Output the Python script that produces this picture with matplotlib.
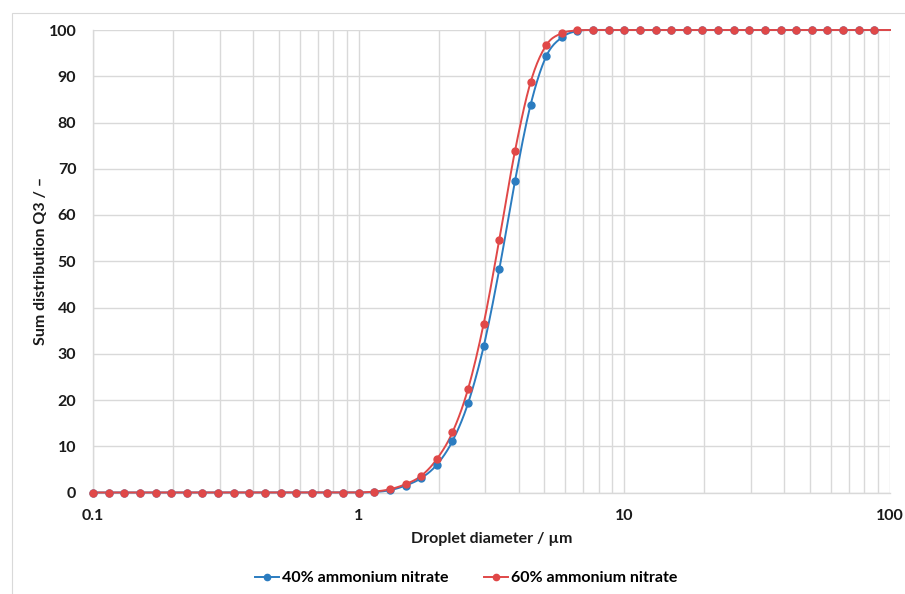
import numpy as np
import matplotlib

matplotlib.use("Agg")
import matplotlib.pyplot as plt
from matplotlib.ticker import FixedLocator, NullFormatter
from matplotlib.patches import Rectangle

plt.rcParams["font.family"] = ["Lato", "DejaVu Sans"]

# droplet size classes (um); the last class (100) carries the line but no marker
diameter = [0.1, 0.1145, 0.1311, 0.1501, 0.1719, 0.1968, 0.2254, 0.2581,
            0.2955, 0.3384, 0.3875, 0.4437, 0.5080, 0.5817, 0.6661, 0.7627,
            0.8733, 1.0, 1.145, 1.311, 1.501, 1.719, 1.968, 2.254, 2.581,
            2.955, 3.384, 3.875, 4.437, 5.080, 5.817, 6.661, 7.627, 8.733,
            10.0, 11.45, 13.11, 15.01, 17.19, 19.68, 22.54, 25.81, 29.55,
            33.84, 38.75, 44.37, 50.80, 58.17, 66.61, 76.27, 87.33, 100.0]

q3_40 = [0] * 17 + [0, 0.1, 0.5, 1.5, 3.1, 6.0, 11.1, 19.3, 31.6, 48.3,
                    67.3, 83.8, 94.3, 98.4, 99.8] + [100] * 20
q3_60 = [0] * 17 + [0, 0.2, 0.7, 1.8, 3.6, 7.2, 13.0, 22.4, 36.5, 54.7,
                    73.8, 88.7, 96.7, 99.3, 99.9] + [100] * 20

series_names = ["40% ammonium nitrate", "60% ammonium nitrate"]
series_colors = ["#2b7cc0", "#e04848"]

x_ticks = [0.1, 1, 10, 100]
x_ticklabels = ["0.1", "1", "10", "100"]
y_ticks = list(range(0, 101, 10))

FS = 11.5


def smooth(x, y, n=12):
    """Catmull-Rom curve through the points, in log-x space (Excel-like smoothing)."""
    lx = np.log10(np.asarray(x, float))
    y = np.asarray(y, float)
    px = np.concatenate([[2 * lx[0] - lx[1]], lx, [2 * lx[-1] - lx[-2]]])
    py = np.concatenate([[y[0]], y, [y[-1]]])
    t = np.linspace(0, 1, n, endpoint=False)
    xs, ys = [], []
    for i in range(1, len(px) - 2):
        for P, out in ((px, xs), (py, ys)):
            p0, p1, p2, p3 = P[i - 1], P[i], P[i + 1], P[i + 2]
            out.extend(0.5 * (2 * p1 + (-p0 + p2) * t
                              + (2 * p0 - 5 * p1 + 4 * p2 - p3) * t ** 2
                              + (-p0 + 3 * p1 - 3 * p2 + p3) * t ** 3))
    xs.append(lx[-1])
    ys.append(y[-1])
    return 10 ** np.array(xs), np.array(ys)


fig = plt.figure(figsize=(9.05, 5.94), dpi=100)
fig.patches.append(Rectangle((12 / 905, -0.1), 1.2, 1 - 13 / 594 + 0.1,
                             transform=fig.transFigure, fill=False,
                             edgecolor="#d9d9d9", linewidth=0.8))
ax = fig.add_axes([93 / 905, 101.5 / 594, 797 / 905, 462.5 / 594])

handles = []
for y, name, color in zip([q3_40, q3_60], series_names, series_colors):
    sx, sy = smooth(diameter, y)
    ax.plot(sx, sy, color=color, linewidth=1.4, clip_on=False, zorder=3)
    ax.plot(diameter[:-1], y[:-1], linestyle="none", marker="o",
            markersize=5, color=color, clip_on=False, zorder=4)
    h, = ax.plot([], [], color=color, linewidth=1.4, marker="o",
                 markersize=4.5, label=name)
    handles.append(h)

ax.set_xscale("log")
ax.set_xlim(0.1, 100)
ax.set_ylim(0, 100)
ax.xaxis.set_major_locator(FixedLocator(x_ticks))
ax.set_xticklabels(x_ticklabels)
minor = [m * d for d in (0.1, 1, 10) for m in range(2, 10)]
ax.xaxis.set_minor_locator(FixedLocator(minor))
ax.xaxis.set_minor_formatter(NullFormatter())
ax.set_yticks(y_ticks)

ax.grid(True, which="both", axis="x", color="#d9d9d9", linewidth=1.0)
ax.grid(True, which="major", axis="y", color="#d9d9d9", linewidth=1.0)
ax.set_axisbelow(True)
for side in ("top", "right"):
    ax.spines[side].set_visible(False)
for side in ("left", "bottom"):
    ax.spines[side].set_color("#d9d9d9")
    ax.spines[side].set_linewidth(1.0)

ax.tick_params(axis="both", which="both", length=0, labelsize=FS,
               colors="#1a1a1a")
ax.tick_params(axis="y", pad=12)
ax.tick_params(axis="x", pad=12)
for lbl in ax.get_xticklabels() + ax.get_yticklabels():
    lbl.set_fontweight("bold")

ax.set_xlabel("Droplet diameter / µm", fontsize=FS, fontweight="bold",
              labelpad=6, color="#1a1a1a")
ax.set_ylabel("Sum distribution Q3 / –", fontsize=FS, fontweight="bold",
              color="#1a1a1a")
ax.yaxis.set_label_coords(-0.056, 0.5)

fig.legend(handles=handles, loc="center", bbox_to_anchor=(466 / 905, 1 - 578 / 594),
           ncol=2, frameon=False, handlelength=1.5, columnspacing=2.2,
           handletextpad=0.2, prop={"weight": "bold", "size": FS})

fig.savefig("out.png", dpi=100)
